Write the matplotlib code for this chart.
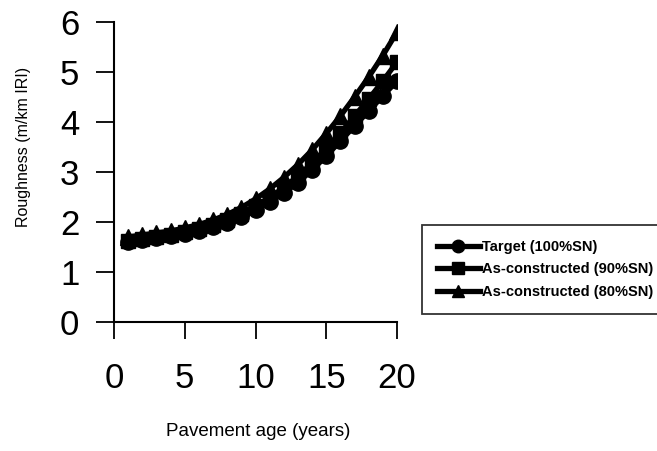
import matplotlib
matplotlib.use("Agg")
import matplotlib.pyplot as plt

# values
years = list(range(1, 21))
target_100 = [1.60, 1.64, 1.68, 1.72, 1.77, 1.83, 1.90, 1.99, 2.10, 2.24,
              2.40, 2.58, 2.79, 3.04, 3.32, 3.62, 3.92, 4.22, 4.52, 4.82]
built_90 = [1.62, 1.66, 1.71, 1.75, 1.80, 1.87, 1.95, 2.05, 2.17, 2.32,
            2.49, 2.69, 2.92, 3.18, 3.47, 3.78, 4.12, 4.46, 4.82, 5.20]
built_80 = [1.70, 1.74, 1.78, 1.82, 1.88, 1.95, 2.04, 2.15, 2.29, 2.46,
            2.66, 2.89, 3.15, 3.44, 3.77, 4.12, 4.50, 4.90, 5.33, 5.80]
labels = ["Target (100%SN)", "As-constructed (90%SN)", "As-constructed (80%SN)"]

plt.rcParams["font.family"] = ["Liberation Sans", "DejaVu Sans"]

fig = plt.figure(figsize=(6.57, 4.51), dpi=100)
ax = fig.add_axes([114 / 657, 1 - 322 / 451, 283 / 657, 300 / 451])

ax.plot(years, target_100, color="black", lw=3.8, marker="o", ms=11, label=labels[0])
ax.plot(years, built_90, color="black", lw=3.8, marker="s", ms=9.5, label=labels[1])
ax.plot(years, built_80, color="black", lw=3.8, marker="^", ms=11.5, label=labels[2])

ax.set_xlim(0, 20)
ax.set_ylim(0, 6)
ax.set_xticks([0, 5, 10, 15, 20])
ax.set_yticks([0, 1, 2, 3, 4, 5, 6])

for side in ["top", "right"]:
    ax.spines[side].set_visible(False)
for side in ["left", "bottom"]:
    ax.spines[side].set_linewidth(1.5)

ax.tick_params(axis="y", length=13, width=1.3, pad=12, labelsize=25)
ax.tick_params(axis="x", length=12, width=1.3, pad=17, labelsize=25)

fig.text(258 / 657, 1 - 432 / 451, "Pavement age (years)", ha="center", va="center", fontsize=13.5)
fig.text(24 / 657, 1 - 147 / 451, "Roughness (m/km IRI)", ha="center", va="center",
         rotation=90, fontsize=11.5)

leg = fig.legend(loc="center left", bbox_to_anchor=(422 / 657, 1 - 269.5 / 451),
                 frameon=True, fancybox=False, borderpad=1.0, labelspacing=0.6,
                 handlelength=3.0, handletextpad=0.1, borderaxespad=0,
                 prop={"size": 10.5, "weight": "bold"})
leg.get_frame().set_edgecolor("black")
leg.get_frame().set_linewidth(1.3)
for h in leg.legend_handles:
    h.set_markersize(9)

fig.savefig("out.png", dpi=100)
